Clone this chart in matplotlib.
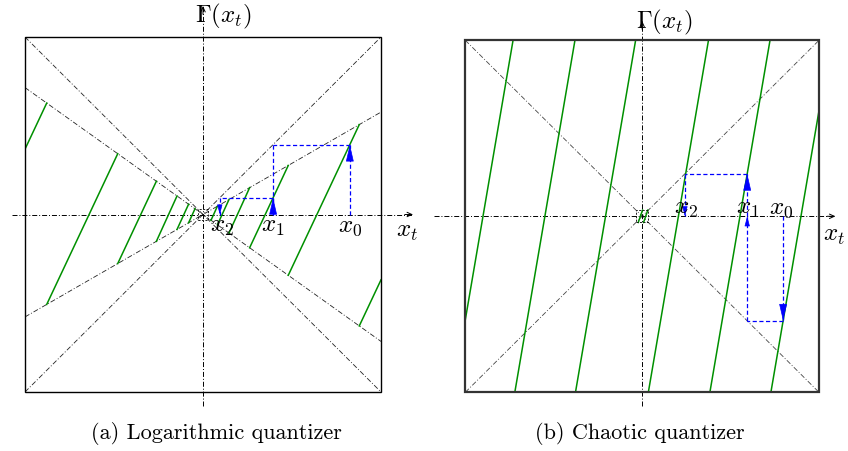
import numpy as np
import matplotlib.pyplot as plt
from matplotlib.patches import Rectangle

plt.rcParams['mathtext.fontset'] = 'cm'
plt.rcParams['lines.scale_dashes'] = False

# --- (a) logarithmic quantizer ---
sector_upper = 0.577     # slope of the upper sector line for x > 0
sector_lower = -0.715    # slope of the lower sector line for x > 0
log_edges = [0.878, 0.479, 0.262, 0.146, 0.081, 0.045]
log_x0 = 0.825

# --- (b) chaotic quantizer ---
chaos_centres = [-0.900, -0.550, -0.207, 0.205, 0.553, 0.898]
chaos_halfspan = 0.170
chaos_small_centres = [-0.010, 0.020]
chaos_small_halfspan = 0.012
chaos_x0 = 0.797

captions = ['(a) Logarithmic quantizer', '(b) Chaotic quantizer']

GREEN = '#009000'
BLUE = '#0000ff'
DASHDOT = (0, (3.6, 1.4, 0.7, 1.4))
BLUEDASH = (0, (3.0, 1.8))


def log_slope(hi, lo):
    return (sector_upper * hi - sector_lower * lo) / (hi - lo)


def log_map(x):
    s, a = np.sign(x), abs(x)
    pieces = list(zip(log_edges[:-1], log_edges[1:]))
    for hi, lo in pieces:
        if lo <= a < hi:
            return s * (sector_lower * lo + log_slope(hi, lo) * (a - lo))
    hi, lo = pieces[0]
    return s * (sector_lower * hi + log_slope(hi, lo) * (a - hi))


def chaos_map(x):
    for c in chaos_centres:
        if abs(x - c) <= chaos_halfspan:
            return (x - c) / chaos_halfspan
    return 0.0


def head(ax, x, y, direction, length=10.8, width=2.5):
    # filled blue arrow head whose tip sits at (x, y)
    ax.annotate('', xy=(x, y), xytext=(0, -direction * length),
                textcoords='offset points',
                arrowprops=dict(arrowstyle='-|>,head_length=%g,head_width=%g' % (length, width),
                                color=BLUE, lw=0.5, shrinkA=0, shrinkB=0,
                                mutation_scale=1),
                annotation_clip=False)


def bdash(ax, xs, ys):
    ax.plot(xs, ys, color=BLUE, lw=0.9, ls=BLUEDASH, clip_on=False, zorder=4)


def axes_cross(ax, xr, yr, box_lw, box_col):
    ax.add_patch(Rectangle((-1, -1), 2, 2, fill=False, lw=box_lw, ec=box_col,
                           zorder=5, clip_on=False))
    ax.plot(xr, [0, 0], color='black', lw=0.7, ls=DASHDOT, clip_on=False, zorder=3)
    ax.plot([0, 0], yr, color='black', lw=0.7, ls=DASHDOT, clip_on=False, zorder=3)
    for xy, off in [((xr[1], 0), (-6, 0)), ((0, yr[1]), (0, -6))]:
        ax.annotate('', xy=xy, xytext=off, textcoords='offset points',
                    arrowprops=dict(arrowstyle='->,head_length=3.5,head_width=1.6',
                                    color='black', lw=0.7, shrinkA=0, shrinkB=0,
                                    mutation_scale=1),
                    annotation_clip=False)
    ax.set_xlim(-1, 1)
    ax.set_ylim(-1, 1)
    ax.axis('off')


fig = plt.figure(figsize=(8.48, 4.52), dpi=100)
ax_a = fig.add_axes([25 / 848, 59 / 452, 356 / 848, 355 / 452])
ax_b = fig.add_axes([465.3 / 848, 58.7 / 452, 353.7 / 848, 352 / 452])
fs = 18

# ---------- panel (a) ----------
ax = ax_a
axes_cross(ax, [-1.073, 1.18], [-1.079, 1.175], 1.0, 'black')
for m in (1, -1, sector_upper, sector_lower):
    ax.plot([-1, 1], [-m, m], color='#222222', lw=0.6, ls=DASHDOT, zorder=2)

# one green piece per quantization cell, running from the lower to the upper sector line
for hi, lo in zip(log_edges[:-1], log_edges[1:]):
    for s in (1, -1):
        ax.plot([s * lo, s * hi], [s * sector_lower * lo, s * sector_upper * hi],
                color=GREEN, lw=1.1, zorder=3)
for s in (1, -1):
    ax.plot([s * log_edges[0], s * 1.0], [s * sector_lower * log_edges[0], log_map(s * 1.0)],
            color=GREEN, lw=1.1, zorder=3)
h = 0.03
ax.add_patch(Rectangle((-h, -h), 2 * h, 2 * h, fill=False, lw=0.6, ls=(0, (1.5, 1.0)),
                       ec='black', zorder=3))

x0 = log_x0
g0 = log_map(x0)
x1 = g0
g1 = log_map(x1)
x2 = g1
bdash(ax, [x0, x0], [0, g0]); head(ax, x0, g0, 1)
bdash(ax, [x0, x1], [g0, g0])
bdash(ax, [x1, x1], [g0, 0])
bdash(ax, [x1, x1], [0, g1]); head(ax, x1, g1, 1)
bdash(ax, [x1, x2], [g1, g1])
bdash(ax, [x2, x2], [g1, 0]); head(ax, x2, 0, -1, 6.0, 1.6)

ax.text(0.112, 1.124, r'$\Gamma(x_t)$', fontsize=fs, ha='center', va='center')
ax.text(1.146, -0.09, r'$x_t$', fontsize=fs, ha='center', va='center')
for xv, lab in [(x0, r'$x_0$'), (x1, r'$x_1$'), (x2 + 0.015, r'$x_2$')]:
    ax.text(xv, -0.06, lab, fontsize=fs, ha='center', va='center', zorder=6)

# ---------- panel (b) ----------
ax = ax_b
axes_cross(ax, [-1.177, 1.093], [-1.077, 1.11], 1.6, '#333333')
for m in (1, -1):
    ax.plot([-1, 1], [-m, m], color='#444444', lw=0.6, ls=DASHDOT, zorder=2)

for c in chaos_centres:
    xs = np.clip(np.array([c - chaos_halfspan, c + chaos_halfspan]), -1, 1)
    ax.plot(xs, [(v - c) / chaos_halfspan for v in xs], color=GREEN, lw=1.1, zorder=3)
hb = 0.035
for c in chaos_small_centres:
    xs = np.array([c - chaos_small_halfspan, c + chaos_small_halfspan])
    ax.plot(xs, [-hb, hb], color=GREEN, lw=1.1, zorder=3)
ax.add_patch(Rectangle((-hb, -hb), 2 * hb, 2 * hb, fill=False, lw=0.6, ls=(0, (1.5, 1.0)),
                       ec='black', zorder=3))

x0 = chaos_x0
g0 = chaos_map(x0)
x1 = abs(g0)
g1 = chaos_map(x1)
x2 = g1
bdash(ax, [x0, x0], [0, g0]); head(ax, x0, g0, -1)
bdash(ax, [x0, x1], [g0, g0])
bdash(ax, [x1, x1], [g0, 0]); head(ax, x1, 0, 1, 6.0, 1.6)
bdash(ax, [x1, x1], [0, g1]); head(ax, x1, g1, 1)
bdash(ax, [x1, x2], [g1, g1])
bdash(ax, [x2, x2], [g1, 0]); head(ax, x2, 0, -1, 6.0, 1.6)

ax.text(0.128, 1.109, r'$\Gamma(x_t)$', fontsize=fs, ha='center', va='center')
ax.text(1.085, -0.1, r'$x_t$', fontsize=fs, ha='center', va='center')
for xv, lab in [(x0 - 0.01, r'$x_0$'), (x1 + 0.005, r'$x_1$'), (x2 + 0.005, r'$x_2$')]:
    ax.text(xv, 0.055, lab, fontsize=fs, ha='center', va='center', zorder=6)

fig.text(216 / 848, 1 - 434 / 452, captions[0], fontsize=16, family='cmr10',
         ha='center', va='center')
fig.text(640 / 848, 1 - 434 / 452, captions[1], fontsize=16, family='cmr10',
         ha='center', va='center')

fig.savefig('out.png', dpi=100)
